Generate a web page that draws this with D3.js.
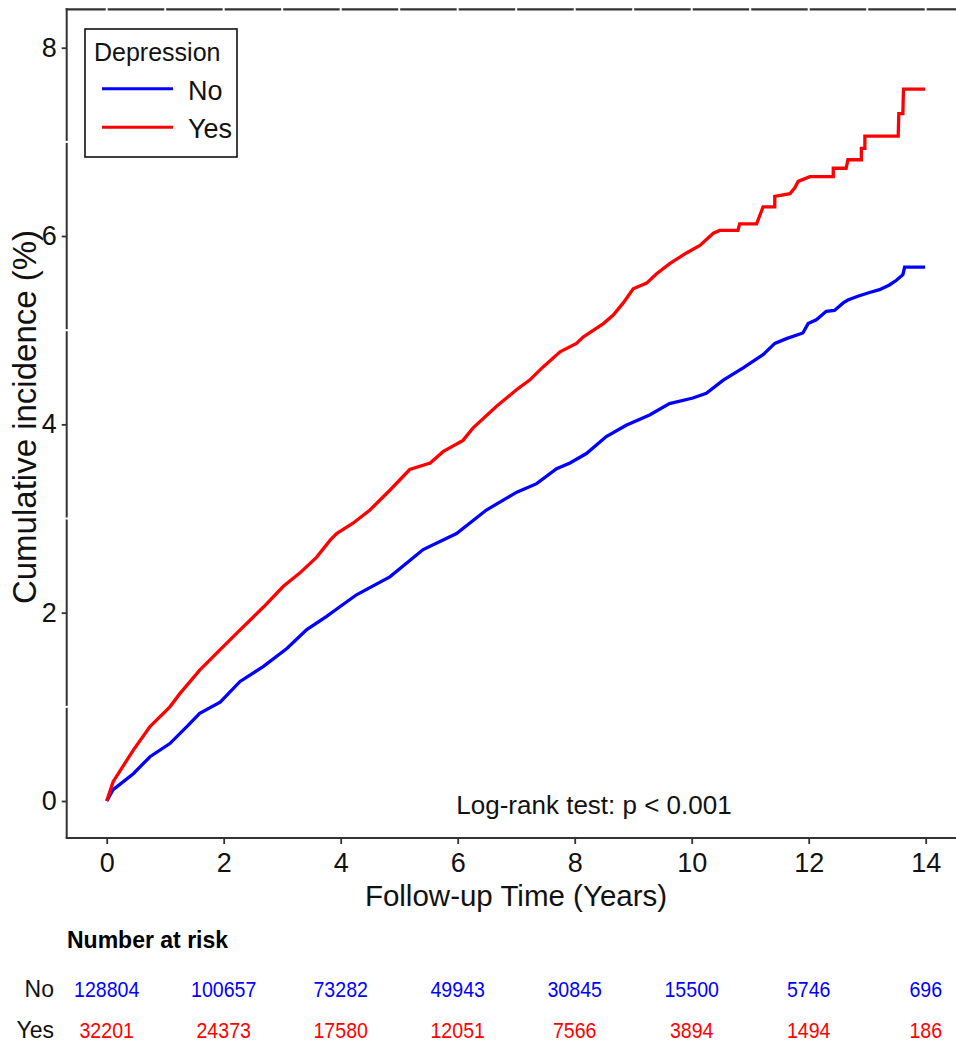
<!DOCTYPE html>
<html lang="en">
<head>
<meta charset="UTF-8">
<title>Cumulative incidence by depression</title>
<script src="https://cdn.jsdelivr.net/npm/d3@7"></script>
<style>
    body { margin: 0; background: #fff; }
    svg { display: block; font-family: "Liberation Sans", Arial, sans-serif; }
</style>
</head>
<body>
<svg width="956" height="1042"></svg>
<script>
    // years vs cumulative incidence (%)
    const groups = ["No", "Yes"];
    const colors = ["#0000ff", "#ff0000"];

    const timeNo = [0, 0.11, 0.455, 0.74, 1.08, 1.37, 1.59, 1.94, 2.28, 2.68, 3.08, 3.42, 3.76, 3.98,
        4.27, 4.84, 5.41, 5.98, 6.49, 7.01, 7.35, 7.69, 7.92, 8.20, 8.54, 8.88, 9.28, 9.62, 10.02,
        10.25, 10.54, 10.88, 11.22, 11.42, 11.62, 11.90, 11.99, 12.13, 12.30, 12.44, 12.59, 12.67,
        12.84, 13.04, 13.21, 13.38, 13.50, 13.61, 13.64, 13.99];
    const incNo = [0, 0.12, 0.29, 0.47, 0.61, 0.79, 0.93, 1.05, 1.27, 1.43, 1.62, 1.82, 1.96, 2.06,
        2.19, 2.38, 2.67, 2.84, 3.09, 3.28, 3.37, 3.53, 3.59, 3.69, 3.87, 3.99, 4.10, 4.22, 4.28,
        4.33, 4.47, 4.60, 4.74, 4.86, 4.91, 4.97, 5.07, 5.11, 5.20, 5.21, 5.29, 5.32,
        5.36, 5.40, 5.43, 5.48, 5.53, 5.59, 5.67, 5.67];

    const timeYes = [0, 0.11, 0.31, 0.455, 0.74, 1.08, 1.25, 1.59, 1.88, 2.22, 2.68, 3.02, 3.30, 3.59,
        3.82, 3.93, 4.21, 4.50, 4.84, 5.18, 5.53, 5.75, 6.09, 6.26, 6.66, 7.01, 7.23, 7.46, 7.75,
        8.03, 8.15, 8.49, 8.66, 8.83, 9.00, 9.23, 9.40, 9.63, 9.91, 10.14, 10.37, 10.48, 10.79,
        10.82, 11.11, 11.22, 11.42, 11.42, 11.68, 11.76, 11.82, 12.02, 12.42, 12.42, 12.64, 12.67,
        12.90, 12.90, 12.96, 12.96, 13.53, 13.54, 13.61, 13.62, 13.99];
    const incYes = [0, 0.205, 0.40, 0.54, 0.79, 1.00, 1.14, 1.39, 1.57, 1.78, 2.06, 2.28, 2.42, 2.59,
        2.77, 2.84, 2.95, 3.09, 3.30, 3.52, 3.59, 3.71, 3.83, 3.96, 4.19, 4.37, 4.47, 4.61, 4.77,
        4.86, 4.93, 5.07, 5.16, 5.29, 5.44, 5.50, 5.60, 5.71, 5.82, 5.90, 6.03, 6.06, 6.06,
        6.13, 6.13, 6.31, 6.31, 6.42, 6.45, 6.51, 6.58, 6.63, 6.63, 6.72, 6.72, 6.81,
        6.81, 6.93, 6.93, 7.06, 7.06, 7.30, 7.30, 7.56, 7.56];

    const xTicks = [0, 2, 4, 6, 8, 10, 12, 14];
    const yTicks = [0, 2, 4, 6, 8];
    const riskTimes = [0, 2, 4, 6, 8, 10, 12, 14];
    const riskNo = [128804, 100657, 73282, 49943, 30845, 15500, 5746, 696];
    const riskYes = [32201, 24373, 17580, 12051, 7566, 3894, 1494, 186];

    const svg = d3.select("svg");
    const axisColor = "#333";

    const x = d3.scaleLinear().domain([0, 14]).range([106.7, 925.7]);
    const y = d3.scaleLinear().domain([0, 8]).range([801, 47.7]);

    const frameLeft = 66.7, frameBottom = 838, frameTop = 9.3;

    // top border, broken at every year (as in the source image)
    const yearMarks = d3.range(0, 15).map(x);
    let edges = [frameLeft - 1].concat(yearMarks.flatMap(d => [d - 1, d + 1])).concat([956]);
    for (let i = 0; i < edges.length; i += 2) {
        svg.append("line")
            .attr("x1", edges[i]).attr("x2", edges[i + 1])
            .attr("y1", frameTop).attr("y2", frameTop)
            .attr("stroke", axisColor).attr("stroke-width", 2.2);
    }

    // left axis line, small breaks at odd values
    const oddMarks = [7, 5, 3, 1].map(y);
    edges = [frameTop - 1].concat(oddMarks.flatMap(d => [d - 1, d + 1])).concat([frameBottom]);
    for (let i = 0; i < edges.length; i += 2) {
        svg.append("line")
            .attr("x1", frameLeft).attr("x2", frameLeft)
            .attr("y1", edges[i]).attr("y2", edges[i + 1])
            .attr("stroke", axisColor).attr("stroke-width", 2);
    }

    // bottom axis line
    svg.append("line")
        .attr("x1", frameLeft - 1).attr("x2", 956)
        .attr("y1", frameBottom).attr("y2", frameBottom)
        .attr("stroke", axisColor).attr("stroke-width", 2);

    const yAxis = svg.append("g")
        .attr("transform", `translate(${frameLeft},0)`)
        .call(d3.axisLeft(y).tickValues(yTicks).tickSize(5).tickPadding(5).tickFormat(d3.format("d")));
    const xAxis = svg.append("g")
        .attr("transform", `translate(0,${frameBottom})`)
        .call(d3.axisBottom(x).tickValues(xTicks).tickSize(6).tickPadding(9).tickFormat(d3.format("d")));

    [yAxis, xAxis].forEach(g => {
        g.select(".domain").remove();
        g.selectAll(".tick line").attr("stroke", axisColor).attr("stroke-width", 1.8);
        g.selectAll(".tick text")
            .attr("fill", "#111")
            .style("font-size", "27px")
            .style("font-family", "'Liberation Sans', Arial, sans-serif");
    });

    // axis titles
    svg.append("text")
        .attr("x", 516).attr("y", 906)
        .attr("text-anchor", "middle")
        .attr("fill", "#111")
        .style("font-size", "29.5px")
        .text("Follow-up Time (Years)");

    svg.append("text")
        .attr("transform", "translate(36,417) rotate(-90)")
        .attr("text-anchor", "middle")
        .attr("fill", "#111")
        .style("font-size", "33px")
        .text("Cumulative incidence (%)");

    // curves
    const line = d3.line()
        .x(d => x(d[0]))
        .y(d => y(d[1]))
        .curve(d3.curveLinear);

    const series = [
        d3.zip(timeNo, incNo),
        d3.zip(timeYes, incYes)
    ];

    svg.append("g")
        .selectAll("path")
        .data(series)
        .join("path")
        .attr("d", line)
        .attr("fill", "none")
        .attr("stroke", (d, i) => colors[i])
        .attr("stroke-width", 3.3)
        .attr("stroke-linejoin", "miter");

    // legend
    const legend = svg.append("g");
    legend.append("rect")
        .attr("x", 85).attr("y", 29)
        .attr("width", 152).attr("height", 128)
        .attr("fill", "#fff")
        .attr("stroke", "#111")
        .attr("stroke-width", 1.6);
    legend.append("text")
        .attr("x", 94).attr("y", 61)
        .attr("fill", "#111")
        .style("font-size", "25px")
        .text("Depression");
    groups.forEach((g, i) => {
        const ly = 88.7 + i * 38.6;
        legend.append("line")
            .attr("x1", 102).attr("x2", 173)
            .attr("y1", ly).attr("y2", ly)
            .attr("stroke", colors[i]).attr("stroke-width", 3);
        legend.append("text")
            .attr("x", 188).attr("y", ly + 11)
            .attr("fill", "#111")
            .style("font-size", "27px")
            .text(g);
    });

    // p value
    svg.append("text")
        .attr("x", 594).attr("y", 814)
        .attr("text-anchor", "middle")
        .attr("fill", "#111")
        .style("font-size", "26px")
        .text("Log-rank test: p < 0.001");

    // number at risk table
    svg.append("text")
        .attr("x", 67).attr("y", 948)
        .attr("fill", "#000")
        .style("font-size", "23px")
        .style("font-weight", "bold")
        .text("Number at risk");

    const rows = [riskNo, riskYes];
    const rowY = [997, 1038];
    rows.forEach((vals, r) => {
        svg.append("text")
            .attr("x", 54).attr("y", rowY[r])
            .attr("text-anchor", "end")
            .attr("fill", "#111")
            .style("font-size", "23px")
            .text(groups[r]);
        svg.append("g")
            .selectAll("text")
            .data(vals)
            .join("text")
            .attr("transform", (d, i) => `translate(${x(riskTimes[i])},${rowY[r]}) scale(0.87,1)`)
            .attr("text-anchor", "middle")
            .attr("fill", colors[r])
            .style("font-size", "22.5px")
            .text(d => d);
    });
</script>
</body>
</html>
